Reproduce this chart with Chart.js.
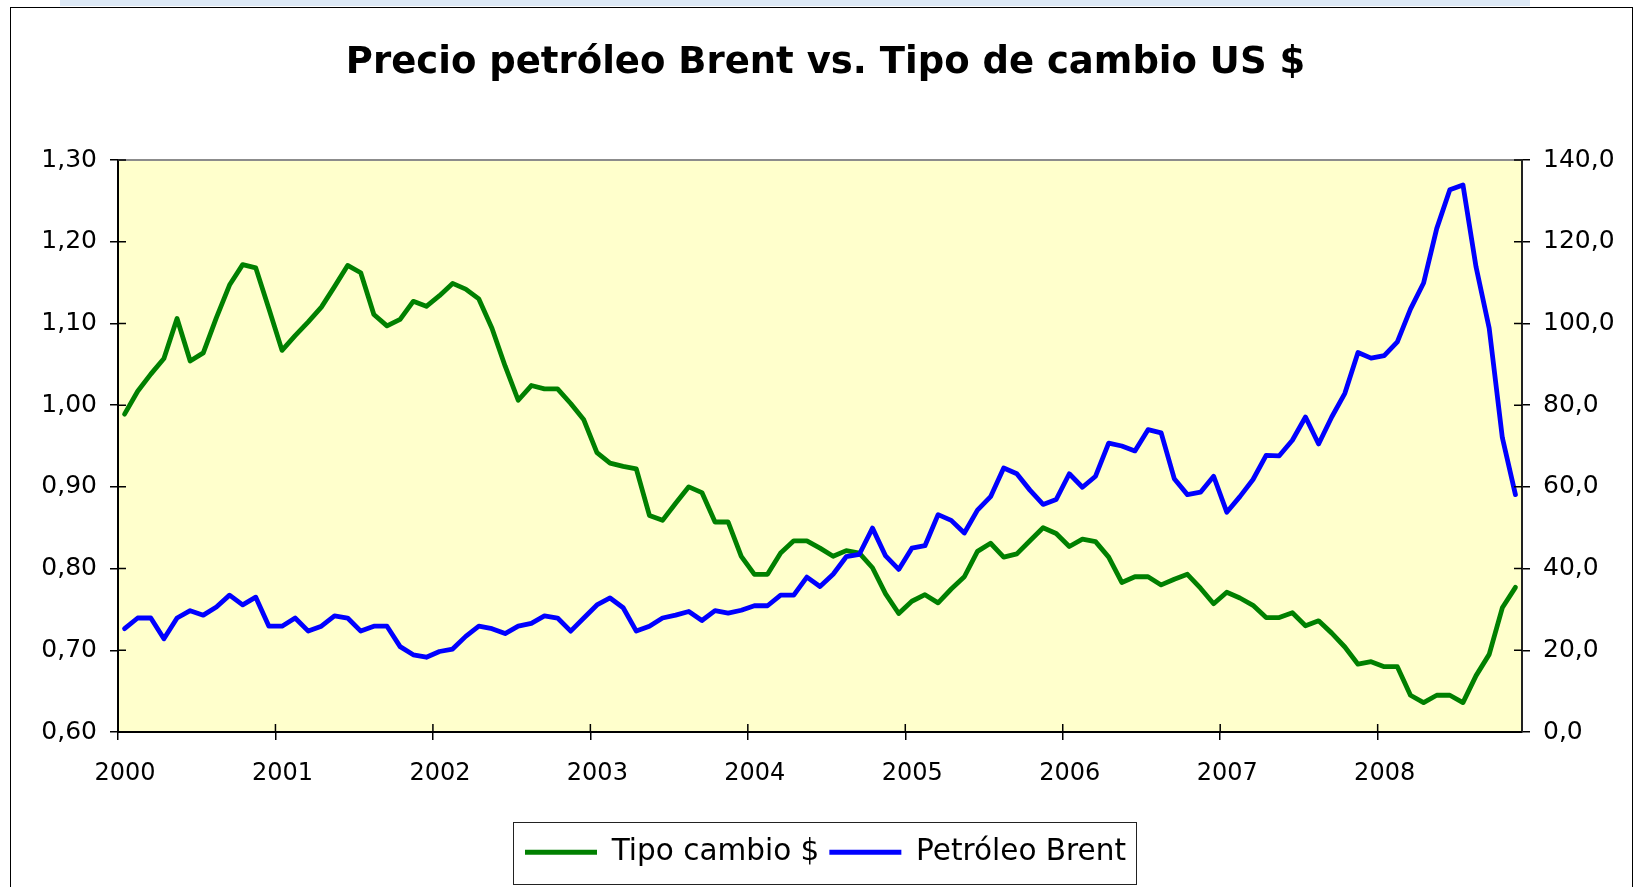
<!DOCTYPE html>
<html lang="es">
<head>
<meta charset="UTF-8">
<title>Precio petróleo Brent vs. Tipo de cambio US $</title>
<script src="https://cdn.jsdelivr.net/npm/chart.js"></script>
<style>
  html, body { margin: 0; padding: 0; background: #fff; }
  #grafico { display: block; }
</style>
</head>
<body>
<canvas id="grafico" width="1635" height="887"></canvas>
<script>
// datos mensuales, enero 2000 - noviembre 2008
const tipoCambio = [
  0.989, 1.017, 1.038, 1.057, 1.106, 1.054, 1.064, 1.107, 1.147, 1.172, 1.168, 1.118,
  1.067, 1.085, 1.102, 1.120, 1.145, 1.171, 1.162, 1.111, 1.097, 1.105, 1.127, 1.121,
  1.134, 1.149, 1.142, 1.130, 1.094, 1.048, 1.006, 1.024, 1.020, 1.020, 1.002, 0.982,
  0.942, 0.929, 0.925, 0.922, 0.865, 0.859, 0.880, 0.900, 0.893, 0.857, 0.857, 0.815,
  0.793, 0.793, 0.819, 0.834, 0.834, 0.825, 0.815, 0.822, 0.819, 0.801, 0.769, 0.745,
  0.760, 0.768, 0.758, 0.775, 0.790, 0.821, 0.831, 0.814, 0.818, 0.834, 0.850, 0.843,
  0.827, 0.836, 0.833, 0.814, 0.783, 0.790, 0.790, 0.780, 0.787, 0.793, 0.776, 0.757,
  0.771, 0.764, 0.755, 0.740, 0.740, 0.746, 0.730, 0.736, 0.721, 0.704, 0.683, 0.686,
  0.680, 0.680, 0.645, 0.636, 0.645, 0.645, 0.636, 0.669, 0.695, 0.752, 0.777
];
const brent = [
  25.3, 27.9, 27.9, 22.8, 27.9, 29.7, 28.6, 30.6, 33.5, 31.1, 33.0, 25.9,
  25.9, 27.9, 24.7, 25.9, 28.4, 27.9, 24.7, 25.9, 25.9, 20.9, 18.9, 18.3,
  19.7, 20.3, 23.4, 25.9, 25.3, 24.1, 25.9, 26.6, 28.4, 27.9, 24.7, 27.9,
  31.1, 32.8, 30.4, 24.7, 25.9, 27.9, 28.6, 29.5, 27.3, 29.7, 29.1, 29.8,
  30.9, 30.9, 33.5, 33.5, 37.9, 35.6, 38.6, 42.9, 43.5, 49.9, 43.1, 39.8,
  45.0, 45.6, 53.2, 51.8, 48.7, 54.3, 57.6, 64.6, 63.2, 59.2, 55.7, 56.9,
  63.2, 59.9, 62.6, 70.7, 70.0, 68.8, 74.0, 73.2, 62.0, 58.1, 58.7, 62.6,
  53.8, 57.6, 61.8, 67.7, 67.6, 71.4, 77.1, 70.5, 77.1, 82.9, 92.9, 91.5,
  92.1, 95.5, 103.5, 109.9, 123.2, 132.7, 133.9, 113.8, 98.8, 72.1, 58.1
];
const anios = ['2000', '2001', '2002', '2003', '2004', '2005', '2006', '2007', '2008'];
const nombres = ['Tipo cambio $', 'Petróleo Brent'];
const titulo = 'Precio petróleo Brent vs. Tipo de cambio US $';

// cada mes ocupa una unidad del eje x, el punto va en el centro del mes
const aPuntos = serie => serie.map((v, i) => ({ x: i + 0.5, y: v }));

const coma = (v, dec) => v.toFixed(dec).replace('.', ',');

// fondo, marco exterior y area de trazado amarilla
const fondo = {
  id: 'fondo',
  beforeDraw(chart) {
    const ctx = chart.ctx;
    const a = chart.chartArea;
    ctx.save();
    ctx.fillStyle = '#fff';
    ctx.fillRect(0, 0, chart.width, chart.height);
    ctx.fillStyle = '#dde9f6';
    ctx.fillRect(60, 0, 1470, 6);
    ctx.strokeStyle = '#000';
    ctx.lineWidth = 1;
    ctx.strokeRect(10.5, 7.5, 1622, 900);
    ctx.fillStyle = '#ffffcc';
    ctx.fillRect(a.left, a.top, a.right - a.left, a.bottom - a.top);
    ctx.restore();
  },
  beforeDatasetsDraw(chart) {
    const ctx = chart.ctx;
    const a = chart.chartArea;
    ctx.save();
    ctx.strokeStyle = '#8c8c8c';
    ctx.lineWidth = 2;
    ctx.beginPath();
    ctx.moveTo(a.left, a.top);
    ctx.lineTo(a.right, a.top);
    ctx.stroke();
    ctx.restore();
  }
};

// marcas de los ejes que cruzan hacia dentro, y marco de la leyenda
const marcas = {
  id: 'marcas',
  afterDraw(chart) {
    const ctx = chart.ctx;
    const a = chart.chartArea;
    const largo = 8;
    ctx.save();
    ctx.strokeStyle = '#000';
    ctx.lineWidth = 1.5;
    ctx.beginPath();
    chart.scales.y.ticks.forEach(t => {
      const p = chart.scales.y.getPixelForValue(t.value);
      ctx.moveTo(a.left, p);
      ctx.lineTo(a.left + largo, p);
    });
    chart.scales.y1.ticks.forEach(t => {
      const p = chart.scales.y1.getPixelForValue(t.value);
      ctx.moveTo(a.right - largo, p);
      ctx.lineTo(a.right, p);
    });
    chart.scales.x.ticks.forEach(t => {
      const p = chart.scales.x.getPixelForValue(t.value);
      ctx.moveTo(p, a.bottom - largo);
      ctx.lineTo(p, a.bottom);
    });
    ctx.stroke();

    const cajas = chart.legend.legendHitBoxes;
    if (cajas && cajas.length) {
      const izq = Math.min(...cajas.map(c => c.left)) - 12;
      const der = Math.max(...cajas.map(c => c.left + c.width)) + 10;
      const arr = Math.min(...cajas.map(c => c.top)) - 16;
      const abj = Math.max(...cajas.map(c => c.top + c.height)) + 16;
      ctx.lineWidth = 1;
      ctx.strokeStyle = '#222';
      ctx.strokeRect(Math.round(izq) + 0.5, Math.round(arr) + 0.5, Math.round(der - izq), Math.round(abj - arr));
    }
    ctx.restore();
  }
};

Chart.defaults.font.family = "'DejaVu Sans', Verdana, sans-serif";
Chart.defaults.color = '#000';

new Chart(document.getElementById('grafico'), {
  type: 'line',
  data: {
    datasets: [
      {
        label: nombres[0],
        data: aPuntos(tipoCambio),
        yAxisID: 'y',
        borderColor: '#008000',
        backgroundColor: '#008000',
        borderWidth: 4.8,
        borderJoinStyle: 'round',
        borderCapStyle: 'round',
        pointRadius: 0,
        tension: 0,
        order: 1
      },
      {
        label: nombres[1],
        data: aPuntos(brent),
        yAxisID: 'y1',
        borderColor: '#0000ff',
        backgroundColor: '#0000ff',
        borderWidth: 4.8,
        borderJoinStyle: 'round',
        borderCapStyle: 'round',
        pointRadius: 0,
        tension: 0,
        order: 0
      }
    ]
  },
  options: {
    responsive: false,
    devicePixelRatio: 1,
    animation: false,
    layout: { padding: { top: 8, left: 16, right: 0, bottom: 10 } },
    plugins: {
      title: {
        display: true,
        text: titulo,
        font: { size: 37, weight: 'bold' },
        padding: { top: 33, bottom: 74.6 }
      },
      legend: {
        position: 'bottom',
        labels: {
          usePointStyle: true,
          pointStyle: 'line',
          pointStyleWidth: 72,
          font: { size: 29.5 },
          padding: 10,
          sort: (a, b) => a.datasetIndex - b.datasetIndex
        }
      },
      tooltip: { enabled: false }
    },
    scales: {
      x: {
        type: 'linear',
        min: 0,
        max: tipoCambio.length,
        afterBuildTicks: s => { s.ticks = s.ticks.filter(t => t.value % 12 === 0); },
        afterFit: s => { s.height = 95.5; },
        ticks: {
          stepSize: 12,
          font: { size: 24 },
          padding: 19,
          labelOffset: 7,
          maxRotation: 0,
          callback: v => anios[v / 12]
        },
        grid: { drawOnChartArea: false, tickLength: 8, color: '#000', lineWidth: 1.5 },
        border: { display: true, color: '#000', width: 2 }
      },
      y: {
        position: 'left',
        min: 0.6,
        max: 1.3,
        afterFit: s => { s.width = 102; },
        ticks: {
          stepSize: 0.1,
          font: { size: 25 },
          padding: 13,
          callback: v => coma(v, 2)
        },
        grid: { drawOnChartArea: false, tickLength: 8, color: '#000', lineWidth: 1.5 },
        border: { display: true, color: '#000', width: 2 }
      },
      y1: {
        position: 'right',
        min: 0,
        max: 140,
        afterFit: s => { s.width = 113; },
        ticks: {
          stepSize: 20,
          font: { size: 25 },
          padding: 13,
          callback: v => coma(v, 1)
        },
        grid: { drawOnChartArea: false, tickLength: 8, color: '#000', lineWidth: 1.5 },
        border: { display: true, color: '#222', width: 2 }
      }
    }
  },
  plugins: [fondo, marcas]
});
</script>
</body>
</html>
